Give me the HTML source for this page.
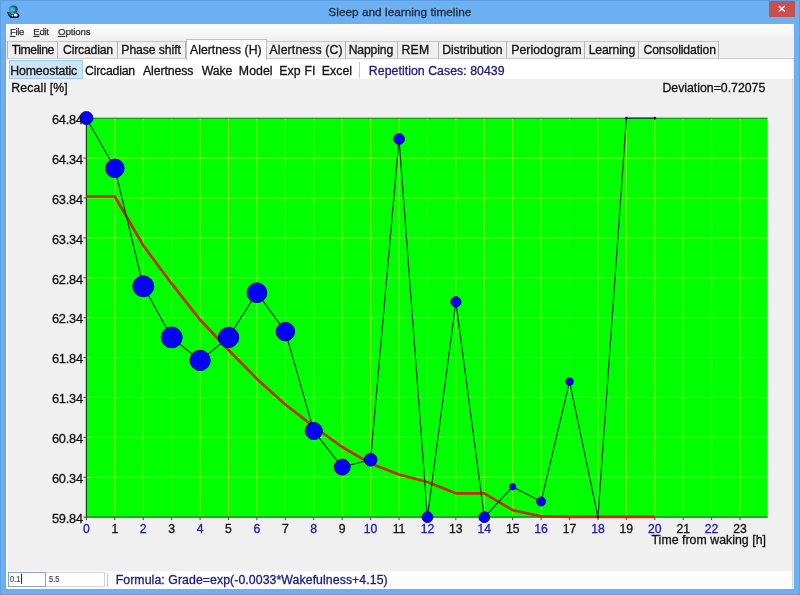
<!DOCTYPE html>
<html><head><meta charset="utf-8"><title>Sleep and learning timeline</title>
<style>
html,body{margin:0;padding:0;}
body{width:800px;height:595px;overflow:hidden;background:#6bb0f3;font-family:"Liberation Sans",sans-serif;position:relative;}
div{position:absolute;box-sizing:border-box;white-space:nowrap;-webkit-text-stroke:0.3px;}
#title{top:4.2px;font-size:11.8px;color:#1e2838;line-height:16px;}
#close{left:769.4px;top:0.6px;width:25.5px;height:16px;background:#c8504f;}
#client{left:6px;top:24px;width:788.2px;height:564.8px;background:#f0f0f0;}
#menu{left:6px;top:24px;width:788.2px;height:16px;background:linear-gradient(#fcfcfc,#f8f8f8 45%,#f0f0f0);}
.mi{top:24.6px;font-size:9.7px;line-height:14px;color:#333;-webkit-text-stroke:0.25px;}
.mi u{text-decoration:underline;}
.tab{top:40.6px;height:17.4px;border-top:1px solid #c6c6c6;border-right:1px solid #b4b4b4;background:#efefef;}
.tab.sel{top:38.8px;height:21.2px;background:#fff;border:1px solid #c2c2c2;border-bottom:none;z-index:3;}
.tt{top:41.8px;font-size:12.2px;line-height:16px;color:#111;z-index:4;}
#tabline{left:6px;top:57.8px;width:788.2px;height:1px;background:#cacaca;}
#toolbar{left:6px;top:59px;width:786.6px;height:19.8px;background:#fff;}
.tb{top:62.5px;font-size:12.3px;line-height:16px;color:#111;}
.nv{color:#1c1c78 !important;}
#hom{left:9.2px;top:60.4px;width:73.4px;height:18.2px;background:#cde4f8;border:1px solid #a2caee;}
#sep{left:359px;top:61.5px;width:1px;height:16px;background:#c8c8c8;}
.pl{top:80.4px;font-size:12.3px;line-height:16px;color:#111;}
#tfw{top:532.4px;}
#bottom{left:6px;top:570.5px;width:786.2px;height:18.3px;background:#fcfcfc;}
#in1{left:8.3px;top:572.3px;width:38px;height:14.3px;background:#fff;border:1px solid #8fa4bd;}
#in2{left:46px;top:572.3px;width:58.5px;height:14.3px;background:#fff;border:1px solid #d2d5da;border-left:none;}
.it{top:572.6px;font-size:9.6px;line-height:12px;color:#444;transform:scaleX(0.78);transform-origin:0 0;-webkit-text-stroke:0.2px;}
#cur{left:21px;top:573.8px;width:1px;height:10px;background:#333;}
#sep2{left:106.5px;top:573px;width:1px;height:14px;background:#c8c8c8;}
#formula{top:571.8px;}
svg{position:absolute;left:0;top:0;}
.g{stroke:#d0f52c;stroke-width:0.8;stroke-opacity:0.75;}
.yl{stroke:#111;stroke-width:0.3px;font-size:12.8px;fill:#111;font-family:"Liberation Sans",sans-serif;letter-spacing:-0.206px;}
.xl{stroke-width:0.3px;font-size:12.2px;font-family:"Liberation Sans",sans-serif;}
#all{left:0;top:0;width:800px;height:595px;will-change:transform;}
</style></head><body><div id="all">
<div style="left:0;top:0;width:800px;height:595px;border:1px solid #5d9fe2;"></div>
<div id="title" class="" style="left:328.35px;letter-spacing:0.024px">Sleep and learning timeline</div>
<div id="close"><svg width="26" height="17" viewBox="0 0 26 17"><path d="M9.9 4.9 L15.7 10.4 M15.7 4.9 L9.9 10.4" stroke="#fff" stroke-width="1.35" fill="none"/></svg></div>
<svg width="24" height="24" viewBox="0 0 24 24" style="left:0;top:0"><defs><radialGradient id="gl" cx="0.36" cy="0.55" r="0.62"><stop offset="0" stop-color="#48dcea"/><stop offset="0.45" stop-color="#2e9cc4"/><stop offset="0.8" stop-color="#1e5c8e"/><stop offset="1" stop-color="#17386a"/></radialGradient></defs><path d="M6.9 11.7 L9.2 12.3 L12.4 14.6 L17.4 12.4 L19.7 15.6 L18.2 17.9 L10.6 17.9 L8.4 15.4 Z" fill="#121c4e"/><ellipse cx="13.4" cy="9.4" rx="4.3" ry="3.9" fill="url(#gl)"/><path d="M8.8 13 L11.4 15.8" stroke="#4e9a58" stroke-width="1.1"/><ellipse cx="15.6" cy="15.1" rx="2" ry="1.5" fill="#f2f5fb"/><circle cx="12.4" cy="15.6" r="0.8" fill="#cfd8ea"/></svg>
<div id="client"></div>
<div id="menu"></div>
<div style="left:6px;top:59px;width:2px;height:530px;background:#fbfdff"></div>
<div style="left:5.3px;top:24px;width:0.7px;height:565px;background:#7aa4d0"></div>
<div style="left:792.2px;top:59px;width:1px;height:530px;background:#dadcda"></div>
<div style="left:793.2px;top:24px;width:1px;height:565px;background:#e2eef8"></div>
<div id="m0" class="mi" style="left:10.0px;letter-spacing:-0.408px"><u>F</u>ile</div><div id="m1" class="mi" style="left:33.24px;letter-spacing:-0.335px"><u>E</u>dit</div><div id="m2" class="mi" style="left:57.98px;letter-spacing:-0.133px"><u>O</u>ptions</div>
<div id="tabline"></div>
<div class="tab" style="left:7px;width:1px;border:none;background:#b4b4b4"></div>
<div class="tab" style="left:7.8px;width:50.7px"></div><div id="tab0" class="tt" style="left:11.74px;letter-spacing:-0.429px">Timeline</div>
<div class="tab" style="left:58.5px;width:59.0px"></div><div id="tab1" class="tt" style="left:63.0px;letter-spacing:-0.171px">Circadian</div>
<div class="tab" style="left:117.5px;width:68.0px"></div><div id="tab2" class="tt" style="left:121.35px;letter-spacing:-0.078px">Phase shift</div>
<div class="tab sel" style="left:185.5px;width:81.25px"></div><div id="tab3" class="tt" style="left:190.0px;letter-spacing:0.039px">Alertness (H)</div>
<div class="tab" style="left:266.75px;width:78.75px"></div><div id="tab4" class="tt" style="left:269.5px;letter-spacing:0.167px">Alertness (C)</div>
<div class="tab" style="left:345.5px;width:52.0px"></div><div id="tab5" class="tt" style="left:348.7px;letter-spacing:-0.144px">Napping</div>
<div class="tab" style="left:397.5px;width:41.25px"></div><div id="tab6" class="tt" style="left:401.5px;letter-spacing:0.296px">REM</div>
<div class="tab" style="left:438.75px;width:68.25px"></div><div id="tab7" class="tt" style="left:442.2px;letter-spacing:-0.054px">Distribution</div>
<div class="tab" style="left:507px;width:78px"></div><div id="tab8" class="tt" style="left:511.35px;letter-spacing:0.048px">Periodogram</div>
<div class="tab" style="left:585px;width:54.3px"></div><div id="tab9" class="tt" style="left:588.7px;letter-spacing:-0.134px">Learning</div>
<div class="tab" style="left:639.3px;width:79.9px"></div><div id="tab10" class="tt" style="left:643.48px;letter-spacing:-0.107px">Consolidation</div>
<div id="toolbar"></div>
<div id="hom"></div>
<div id="tb0" class="tb" style="left:10.35px;letter-spacing:-0.152px">Homeostatic</div>
<div id="tb1" class="tb" style="left:85.0px;letter-spacing:-0.217px">Circadian</div>
<div id="tb2" class="tb" style="left:143.0px;letter-spacing:-0.108px">Alertness</div>
<div id="tb3" class="tb" style="left:201.65px;letter-spacing:-0.121px">Wake</div>
<div id="tb4" class="tb" style="left:238.85px;letter-spacing:0.05px">Model</div>
<div id="tb5" class="tb" style="left:279.2px;letter-spacing:0.146px">Exp FI</div>
<div id="tb6" class="tb" style="left:321.7px;letter-spacing:0.084px">Excel</div>
<div id="sep"></div>
<div id="rep" class="tb nv" style="left:368.85px;letter-spacing:0.049px">Repetition Cases: 80439</div>
<div id="recall" class="pl" style="left:11.35px;letter-spacing:0.121px">Recall [%]</div>
<div id="dev" class="pl" style="left:662.44px;letter-spacing:-0.004px">Deviation=0.72075</div>
<svg width="800" height="595" viewBox="0 0 800 595">
<rect x="86.4" y="118.2" width="681.20" height="398.90" fill="#00ff00"/>
<line x1="114.82" y1="118.2" x2="114.82" y2="517.1" class="g"/>
<line x1="143.24" y1="118.2" x2="143.24" y2="517.1" class="g"/>
<line x1="171.66" y1="118.2" x2="171.66" y2="517.1" class="g"/>
<line x1="200.08" y1="118.2" x2="200.08" y2="517.1" class="g"/>
<line x1="228.5" y1="118.2" x2="228.5" y2="517.1" class="g"/>
<line x1="256.92" y1="118.2" x2="256.92" y2="517.1" class="g"/>
<line x1="285.34" y1="118.2" x2="285.34" y2="517.1" class="g"/>
<line x1="313.76" y1="118.2" x2="313.76" y2="517.1" class="g"/>
<line x1="342.18" y1="118.2" x2="342.18" y2="517.1" class="g"/>
<line x1="370.6" y1="118.2" x2="370.6" y2="517.1" class="g"/>
<line x1="399.02" y1="118.2" x2="399.02" y2="517.1" class="g"/>
<line x1="427.44" y1="118.2" x2="427.44" y2="517.1" class="g"/>
<line x1="455.86" y1="118.2" x2="455.86" y2="517.1" class="g"/>
<line x1="484.28" y1="118.2" x2="484.28" y2="517.1" class="g"/>
<line x1="512.7" y1="118.2" x2="512.7" y2="517.1" class="g"/>
<line x1="541.12" y1="118.2" x2="541.12" y2="517.1" class="g"/>
<line x1="569.54" y1="118.2" x2="569.54" y2="517.1" class="g"/>
<line x1="597.96" y1="118.2" x2="597.96" y2="517.1" class="g"/>
<line x1="626.38" y1="118.2" x2="626.38" y2="517.1" class="g"/>
<line x1="654.8" y1="118.2" x2="654.8" y2="517.1" class="g"/>
<line x1="683.22" y1="118.2" x2="683.22" y2="517.1" class="g"/>
<line x1="711.64" y1="118.2" x2="711.64" y2="517.1" class="g"/>
<line x1="740.06" y1="118.2" x2="740.06" y2="517.1" class="g"/>
<line x1="86.4" y1="158.09" x2="767.6" y2="158.09" class="g"/>
<line x1="86.4" y1="197.98" x2="767.6" y2="197.98" class="g"/>
<line x1="86.4" y1="237.87" x2="767.6" y2="237.87" class="g"/>
<line x1="86.4" y1="277.76" x2="767.6" y2="277.76" class="g"/>
<line x1="86.4" y1="317.65" x2="767.6" y2="317.65" class="g"/>
<line x1="86.4" y1="357.54" x2="767.6" y2="357.54" class="g"/>
<line x1="86.4" y1="397.43" x2="767.6" y2="397.43" class="g"/>
<line x1="86.4" y1="437.32" x2="767.6" y2="437.32" class="g"/>
<line x1="86.4" y1="477.21" x2="767.6" y2="477.21" class="g"/>
<path d="M86.4 118.2 H767.6" stroke="#0a7a0a" stroke-width="1" fill="none"/>
<path d="M86.4 517.1 H767.6" stroke="#127012" stroke-width="1.2" fill="none"/>
<path d="M86.4 118.2 V517.7" stroke="#0c4a0c" stroke-width="1.2" fill="none"/>
<line x1="83.4" y1="118.2" x2="86.4" y2="118.2" stroke="#444" stroke-width="1"/>
<line x1="83.4" y1="158.09" x2="86.4" y2="158.09" stroke="#444" stroke-width="1"/>
<line x1="83.4" y1="197.98" x2="86.4" y2="197.98" stroke="#444" stroke-width="1"/>
<line x1="83.4" y1="237.87" x2="86.4" y2="237.87" stroke="#444" stroke-width="1"/>
<line x1="83.4" y1="277.76" x2="86.4" y2="277.76" stroke="#444" stroke-width="1"/>
<line x1="83.4" y1="317.65" x2="86.4" y2="317.65" stroke="#444" stroke-width="1"/>
<line x1="83.4" y1="357.54" x2="86.4" y2="357.54" stroke="#444" stroke-width="1"/>
<line x1="83.4" y1="397.43" x2="86.4" y2="397.43" stroke="#444" stroke-width="1"/>
<line x1="83.4" y1="437.32" x2="86.4" y2="437.32" stroke="#444" stroke-width="1"/>
<line x1="83.4" y1="477.21" x2="86.4" y2="477.21" stroke="#444" stroke-width="1"/>
<line x1="83.4" y1="517.1" x2="86.4" y2="517.1" stroke="#444" stroke-width="1"/>
<line x1="86.4" y1="517.1" x2="86.4" y2="520.1" stroke="#444" stroke-width="1"/>
<line x1="114.82" y1="517.1" x2="114.82" y2="520.1" stroke="#444" stroke-width="1"/>
<line x1="143.24" y1="517.1" x2="143.24" y2="520.1" stroke="#444" stroke-width="1"/>
<line x1="171.66" y1="517.1" x2="171.66" y2="520.1" stroke="#444" stroke-width="1"/>
<line x1="200.08" y1="517.1" x2="200.08" y2="520.1" stroke="#444" stroke-width="1"/>
<line x1="228.5" y1="517.1" x2="228.5" y2="520.1" stroke="#444" stroke-width="1"/>
<line x1="256.92" y1="517.1" x2="256.92" y2="520.1" stroke="#444" stroke-width="1"/>
<line x1="285.34" y1="517.1" x2="285.34" y2="520.1" stroke="#444" stroke-width="1"/>
<line x1="313.76" y1="517.1" x2="313.76" y2="520.1" stroke="#444" stroke-width="1"/>
<line x1="342.18" y1="517.1" x2="342.18" y2="520.1" stroke="#444" stroke-width="1"/>
<line x1="370.6" y1="517.1" x2="370.6" y2="520.1" stroke="#444" stroke-width="1"/>
<line x1="399.02" y1="517.1" x2="399.02" y2="520.1" stroke="#444" stroke-width="1"/>
<line x1="427.44" y1="517.1" x2="427.44" y2="520.1" stroke="#444" stroke-width="1"/>
<line x1="455.86" y1="517.1" x2="455.86" y2="520.1" stroke="#444" stroke-width="1"/>
<line x1="484.28" y1="517.1" x2="484.28" y2="520.1" stroke="#444" stroke-width="1"/>
<line x1="512.7" y1="517.1" x2="512.7" y2="520.1" stroke="#444" stroke-width="1"/>
<line x1="541.12" y1="517.1" x2="541.12" y2="520.1" stroke="#444" stroke-width="1"/>
<line x1="569.54" y1="517.1" x2="569.54" y2="520.1" stroke="#444" stroke-width="1"/>
<line x1="597.96" y1="517.1" x2="597.96" y2="520.1" stroke="#444" stroke-width="1"/>
<line x1="626.38" y1="517.1" x2="626.38" y2="520.1" stroke="#444" stroke-width="1"/>
<line x1="654.8" y1="517.1" x2="654.8" y2="520.1" stroke="#444" stroke-width="1"/>
<line x1="683.22" y1="517.1" x2="683.22" y2="520.1" stroke="#444" stroke-width="1"/>
<line x1="711.64" y1="517.1" x2="711.64" y2="520.1" stroke="#444" stroke-width="1"/>
<line x1="740.06" y1="517.1" x2="740.06" y2="520.1" stroke="#444" stroke-width="1"/>
<polyline points="86.4,196.5 114.82,196.5 143.24,245.5 171.66,283.7 200.08,319.8 228.5,350 256.92,378.9 285.34,404.5 313.76,426.5 342.18,447 370.6,463.6 399.02,474.5 427.44,482 455.86,493.3 484.28,493.3 512.7,510.2 541.12,516.3 569.54,516.8 654.8,516.8" fill="none" stroke="#c42e02" stroke-width="2.7" stroke-linejoin="round"/>
<polyline points="86.4,118.0 114.82,168.3 143.24,286.3 171.66,337.4 200.08,360.4 228.5,337.4 256.92,292.7 285.34,331.6 313.76,431 342.18,467.1 370.6,459.7 399.02,139 427.44,517.2 455.86,301.8 484.28,517.2 512.7,486.8 541.12,501.5 569.54,381.6 597.96,517 626.38,118.2 654.8,118.2" fill="none" stroke="#0b4a22" stroke-width="1.3" stroke-linejoin="round"/>
<circle cx="86.4" cy="118.0" r="6.5" fill="#0000ff" stroke="#000078" stroke-width="0.9"/>
<circle cx="114.82" cy="168.3" r="9.3" fill="#0000ff" stroke="#000078" stroke-width="0.9"/>
<circle cx="143.24" cy="286.3" r="10.5" fill="#0000ff" stroke="#000078" stroke-width="0.9"/>
<circle cx="171.66" cy="337.4" r="10.5" fill="#0000ff" stroke="#000078" stroke-width="0.9"/>
<circle cx="200.08" cy="360.4" r="10.2" fill="#0000ff" stroke="#000078" stroke-width="0.9"/>
<circle cx="228.5" cy="337.4" r="10.2" fill="#0000ff" stroke="#000078" stroke-width="0.9"/>
<circle cx="256.92" cy="292.7" r="9.9" fill="#0000ff" stroke="#000078" stroke-width="0.9"/>
<circle cx="285.34" cy="331.6" r="9.3" fill="#0000ff" stroke="#000078" stroke-width="0.9"/>
<circle cx="313.76" cy="431" r="8.6" fill="#0000ff" stroke="#000078" stroke-width="0.9"/>
<circle cx="342.18" cy="467.1" r="8" fill="#0000ff" stroke="#000078" stroke-width="0.9"/>
<circle cx="370.6" cy="459.7" r="6.4" fill="#0000ff" stroke="#000078" stroke-width="0.9"/>
<circle cx="399.02" cy="139" r="5.4" fill="#0000ff" stroke="#000078" stroke-width="0.9"/>
<circle cx="427.44" cy="517.2" r="5.4" fill="#0000ff" stroke="#000078" stroke-width="0.9"/>
<circle cx="455.86" cy="301.8" r="5.1" fill="#0000ff" stroke="#000078" stroke-width="0.9"/>
<circle cx="484.28" cy="517.2" r="5.4" fill="#0000ff" stroke="#000078" stroke-width="0.9"/>
<circle cx="512.7" cy="486.8" r="3.2" fill="#0000ff" stroke="#000078" stroke-width="0.9"/>
<circle cx="541.12" cy="501.5" r="4.5" fill="#0000ff" stroke="#000078" stroke-width="0.9"/>
<circle cx="569.54" cy="381.6" r="3.8" fill="#0000ff" stroke="#000078" stroke-width="0.9"/>
<circle cx="597.96" cy="517" r="0.8" fill="#0000ff" stroke="#000078" stroke-width="0.9"/>
<circle cx="626.38" cy="118.2" r="1.0" fill="#0000ff" stroke="#000078" stroke-width="0.9"/>
<circle cx="654.8" cy="118.2" r="1.0" fill="#0000ff" stroke="#000078" stroke-width="0.9"/>
<line x1="86.4" y1="118.0" x2="89.20" y2="122.96" stroke="#000060" stroke-opacity="0.4" stroke-width="1.3"/>
<line x1="114.82" y1="168.3" x2="116.81" y2="176.56" stroke="#000060" stroke-opacity="0.4" stroke-width="1.3"/>
<line x1="143.24" y1="286.3" x2="147.95" y2="294.78" stroke="#000060" stroke-opacity="0.4" stroke-width="1.3"/>
<line x1="171.66" y1="337.4" x2="179.20" y2="343.50" stroke="#000060" stroke-opacity="0.4" stroke-width="1.3"/>
<line x1="200.08" y1="360.4" x2="207.39" y2="354.49" stroke="#000060" stroke-opacity="0.4" stroke-width="1.3"/>
<line x1="228.5" y1="337.4" x2="233.54" y2="329.47" stroke="#000060" stroke-opacity="0.4" stroke-width="1.3"/>
<line x1="256.92" y1="292.7" x2="262.29" y2="300.05" stroke="#000060" stroke-opacity="0.4" stroke-width="1.3"/>
<line x1="285.34" y1="331.6" x2="287.68" y2="339.77" stroke="#000060" stroke-opacity="0.4" stroke-width="1.3"/>
<line x1="313.76" y1="431" x2="318.58" y2="437.13" stroke="#000060" stroke-opacity="0.4" stroke-width="1.3"/>
<line x1="342.18" y1="467.1" x2="349.15" y2="465.29" stroke="#000060" stroke-opacity="0.4" stroke-width="1.3"/>
<line x1="370.6" y1="459.7" x2="371.09" y2="454.12" stroke="#000060" stroke-opacity="0.4" stroke-width="1.3"/>
<line x1="399.02" y1="139" x2="399.36" y2="143.59" stroke="#000060" stroke-opacity="0.4" stroke-width="1.3"/>
<line x1="427.44" y1="517.2" x2="428.04" y2="512.64" stroke="#000060" stroke-opacity="0.4" stroke-width="1.3"/>
<line x1="455.86" y1="301.8" x2="456.42" y2="306.06" stroke="#000060" stroke-opacity="0.4" stroke-width="1.3"/>
<line x1="484.28" y1="517.2" x2="487.42" y2="513.84" stroke="#000060" stroke-opacity="0.4" stroke-width="1.3"/>
<line x1="512.7" y1="486.8" x2="514.83" y2="487.90" stroke="#000060" stroke-opacity="0.4" stroke-width="1.3"/>
<line x1="541.12" y1="501.5" x2="541.97" y2="497.90" stroke="#000060" stroke-opacity="0.4" stroke-width="1.3"/>
<line x1="569.54" y1="381.6" x2="570.16" y2="384.54" stroke="#000060" stroke-opacity="0.4" stroke-width="1.3"/>
<text x="82.9" y="123.95" text-anchor="end" class="yl">64.84</text>
<text x="82.9" y="163.84" text-anchor="end" class="yl">64.34</text>
<text x="82.9" y="203.73" text-anchor="end" class="yl">63.84</text>
<text x="82.9" y="243.62" text-anchor="end" class="yl">63.34</text>
<text x="82.9" y="283.51" text-anchor="end" class="yl">62.84</text>
<text x="82.9" y="323.4" text-anchor="end" class="yl">62.34</text>
<text x="82.9" y="363.29" text-anchor="end" class="yl">61.84</text>
<text x="82.9" y="403.18" text-anchor="end" class="yl">61.34</text>
<text x="82.9" y="443.07" text-anchor="end" class="yl">60.84</text>
<text x="82.9" y="482.96" text-anchor="end" class="yl">60.34</text>
<text x="82.9" y="522.85" text-anchor="end" class="yl">59.84</text>
<text x="86.4" y="533.3" text-anchor="middle" class="xl" fill="#1a1ab0" stroke="#1a1ab0">0</text>
<text x="114.82" y="533.3" text-anchor="middle" class="xl" fill="#111" stroke="#111">1</text>
<text x="143.24" y="533.3" text-anchor="middle" class="xl" fill="#1a1ab0" stroke="#1a1ab0">2</text>
<text x="171.66" y="533.3" text-anchor="middle" class="xl" fill="#111" stroke="#111">3</text>
<text x="200.08" y="533.3" text-anchor="middle" class="xl" fill="#1a1ab0" stroke="#1a1ab0">4</text>
<text x="228.5" y="533.3" text-anchor="middle" class="xl" fill="#111" stroke="#111">5</text>
<text x="256.92" y="533.3" text-anchor="middle" class="xl" fill="#1a1ab0" stroke="#1a1ab0">6</text>
<text x="285.34" y="533.3" text-anchor="middle" class="xl" fill="#111" stroke="#111">7</text>
<text x="313.76" y="533.3" text-anchor="middle" class="xl" fill="#1a1ab0" stroke="#1a1ab0">8</text>
<text x="342.18" y="533.3" text-anchor="middle" class="xl" fill="#111" stroke="#111">9</text>
<text x="370.6" y="533.3" text-anchor="middle" class="xl" fill="#1a1ab0" stroke="#1a1ab0">10</text>
<text x="399.02" y="533.3" text-anchor="middle" class="xl" fill="#111" stroke="#111">11</text>
<text x="427.44" y="533.3" text-anchor="middle" class="xl" fill="#1a1ab0" stroke="#1a1ab0">12</text>
<text x="455.86" y="533.3" text-anchor="middle" class="xl" fill="#111" stroke="#111">13</text>
<text x="484.28" y="533.3" text-anchor="middle" class="xl" fill="#1a1ab0" stroke="#1a1ab0">14</text>
<text x="512.7" y="533.3" text-anchor="middle" class="xl" fill="#111" stroke="#111">15</text>
<text x="541.12" y="533.3" text-anchor="middle" class="xl" fill="#1a1ab0" stroke="#1a1ab0">16</text>
<text x="569.54" y="533.3" text-anchor="middle" class="xl" fill="#111" stroke="#111">17</text>
<text x="597.96" y="533.3" text-anchor="middle" class="xl" fill="#1a1ab0" stroke="#1a1ab0">18</text>
<text x="626.38" y="533.3" text-anchor="middle" class="xl" fill="#111" stroke="#111">19</text>
<text x="654.8" y="533.3" text-anchor="middle" class="xl" fill="#1a1ab0" stroke="#1a1ab0">20</text>
<text x="683.22" y="533.3" text-anchor="middle" class="xl" fill="#111" stroke="#111">21</text>
<text x="711.64" y="533.3" text-anchor="middle" class="xl" fill="#1a1ab0" stroke="#1a1ab0">22</text>
<text x="740.06" y="533.3" text-anchor="middle" class="xl" fill="#111" stroke="#111">23</text>
</svg>
<div id="tfw" class="pl" style="left:651.52px;letter-spacing:0.041px">Time from waking [h]</div>
<div id="bottom"></div>
<div id="in1"></div>
<div id="in2"></div>
<div class="it" style="left:10.2px">0.1</div>
<div class="it" style="left:48.5px">5.5</div>
<div id="cur"></div>
<div id="sep2"></div>
<div id="formula" class="pl nv" style="left:115.7px;letter-spacing:0.073px">Formula: Grade=exp(-0.0033*Wakefulness+4.15)</div>
</div></body></html>
